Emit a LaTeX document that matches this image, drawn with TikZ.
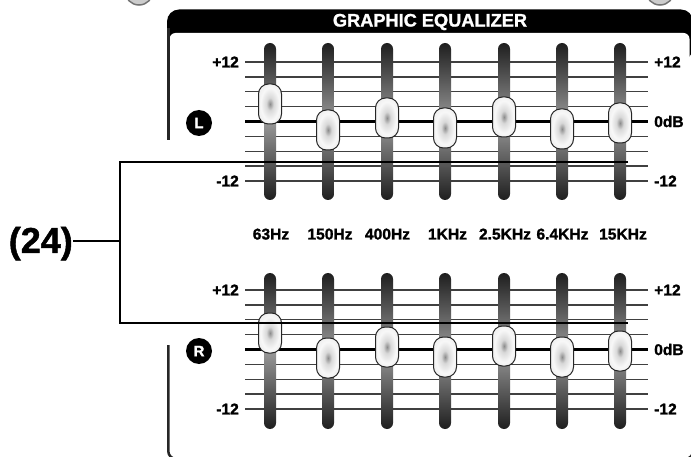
\documentclass[tikz,border=0pt]{standalone}
\usepackage{fontspec}
\setmainfont{Liberation Sans}
\newfontfamily\heavy{Liberation Sans Bold}[FakeBold=1.3]
\pgfdeclareradialshading{knobshade}{\pgfpoint{0bp}{0bp}}{color(0bp)=(black!45); color(8bp)=(black!15); color(20bp)=(black!3); color(38bp)=(black!10); color(50bp)=(black!25)}
\begin{document}
\begin{tikzpicture}[x=1pt,y=-1pt,
  lab/.style={font=\heavy\fontsize{15.6}{18}\selectfont, inner sep=0pt},
  scaleline/.style={line width=1.4pt, black!75},
  zeroline/.style={line width=2.6pt, black},
  framel/.style={line width=2.5pt, black!85},
  bracket/.style={line width=2pt, black},
  knob/.style={draw=black!85, line width=1pt, rounded corners=10pt, shading=knobshade},
  track/.style={rounded corners=6pt, top color=black!88, bottom color=black!88, middle color=black!40},
  badge/.style={circle, fill=black, text=white, minimum size=26pt, inner sep=0pt, font=\heavy\fontsize{15}{17}\selectfont}]
\useasboundingbox (0,0) rectangle (691,457);
\clip (0,0) rectangle (691,457);
% knobs at the top edge
\filldraw[fill=black!20, draw=black!55, line width=1.5pt] (139,-9) circle (14);
\filldraw[fill=black!20, draw=black!55, line width=1.5pt] (660,-9) circle (14);
% frame
\fill[black, rounded corners=12pt] (167,60) -- (167,9.5) -- (693,9.5) -- (693,60) -- cycle;
\fill[white, rounded corners=6pt] (169.5,33) -- (689.5,33) -- (689.5,80) -- (169.5,80) -- cycle;
\draw[framel] (168.25,28) -- (168.25,140);
\draw[framel, rounded corners=8pt] (168.25,345) -- (168.25,459) -- (693.2,459) -- (693.2,28);
\node[font=\heavy\fontsize{18.2}{20}\selectfont, text=white, inner sep=0pt] (title) at (430,22) {GRAPHIC EQUALIZER};
% scale lines
\foreach \base in {62,290}{
  \foreach \k in {0,1,2,3,5,6,7,8}{
    \draw[scaleline] (245,\base+14.875*\k) -- (648,\base+14.875*\k);
  }
  \draw[zeroline] (245,\base+59.5) -- (648,\base+59.5);
}
% tracks and knobs
\foreach \x/\yl/\yr in {270/104/333, 328/130/358, 387/118/347, 445/128/357, 504/117/346, 562/129/357, 620/123/351}{
  \shade[track] (\x-6,43) rectangle (\x+6,200);
  \shade[track] (\x-6,273) rectangle (\x+6,429);
  \path[knob] (\x-11.5,\yl-20) rectangle (\x+11.5,\yl+20);
  \path[knob] (\x-11.5,\yr-20) rectangle (\x+11.5,\yr+20);
}
% dB labels
\node[lab, anchor=east] (lp12) at (239,62) {+12};
\node[lab, anchor=east] (lm12) at (239,181) {-12};
\node[lab, anchor=west] (rp12) at (654,62) {+12};
\node[lab, anchor=west] (r0) at (654,121.5) {0dB};
\node[lab, anchor=west] (rm12) at (654,181) {-12};
\node[lab, anchor=east] (lp12b) at (239,290) {+12};
\node[lab, anchor=east] (lm12b) at (239,409) {-12};
\node[lab, anchor=west] (rp12b) at (654,290) {+12};
\node[lab, anchor=west] (r0b) at (654,349.5) {0dB};
\node[lab, anchor=west] (rm12b) at (654,409) {-12};
% channel badges
\node[badge] (chL) at (199,123) {L};
\node[badge] (chR) at (199,351) {R};
% frequency labels
\foreach \x/\t [count=\i] in {271/63Hz, 330/150Hz, 387.5/400Hz, 447.5/1KHz, 505/2.5KHz, 562.5/6.4KHz, 623/15KHz}{
  \node[lab, anchor=base] (f\i) at (\x,239.5) {\t};
}
% callout
\node[font=\heavy\fontsize{36}{40}\selectfont, inner sep=0pt, anchor=base east] (num) at (73,253) {(24)};
\coordinate (bt) at (120,162);
\coordinate (bb) at (120,323);
\coordinate (bm) at (120,241);
\coordinate (te) at (628,162);
\coordinate (be) at (628,323);
\draw[bracket] (te) -- (bt) -- (bb) -- (be);
\draw[bracket] (num.east |- bm) -- (bm);
\end{tikzpicture}
\end{document}
